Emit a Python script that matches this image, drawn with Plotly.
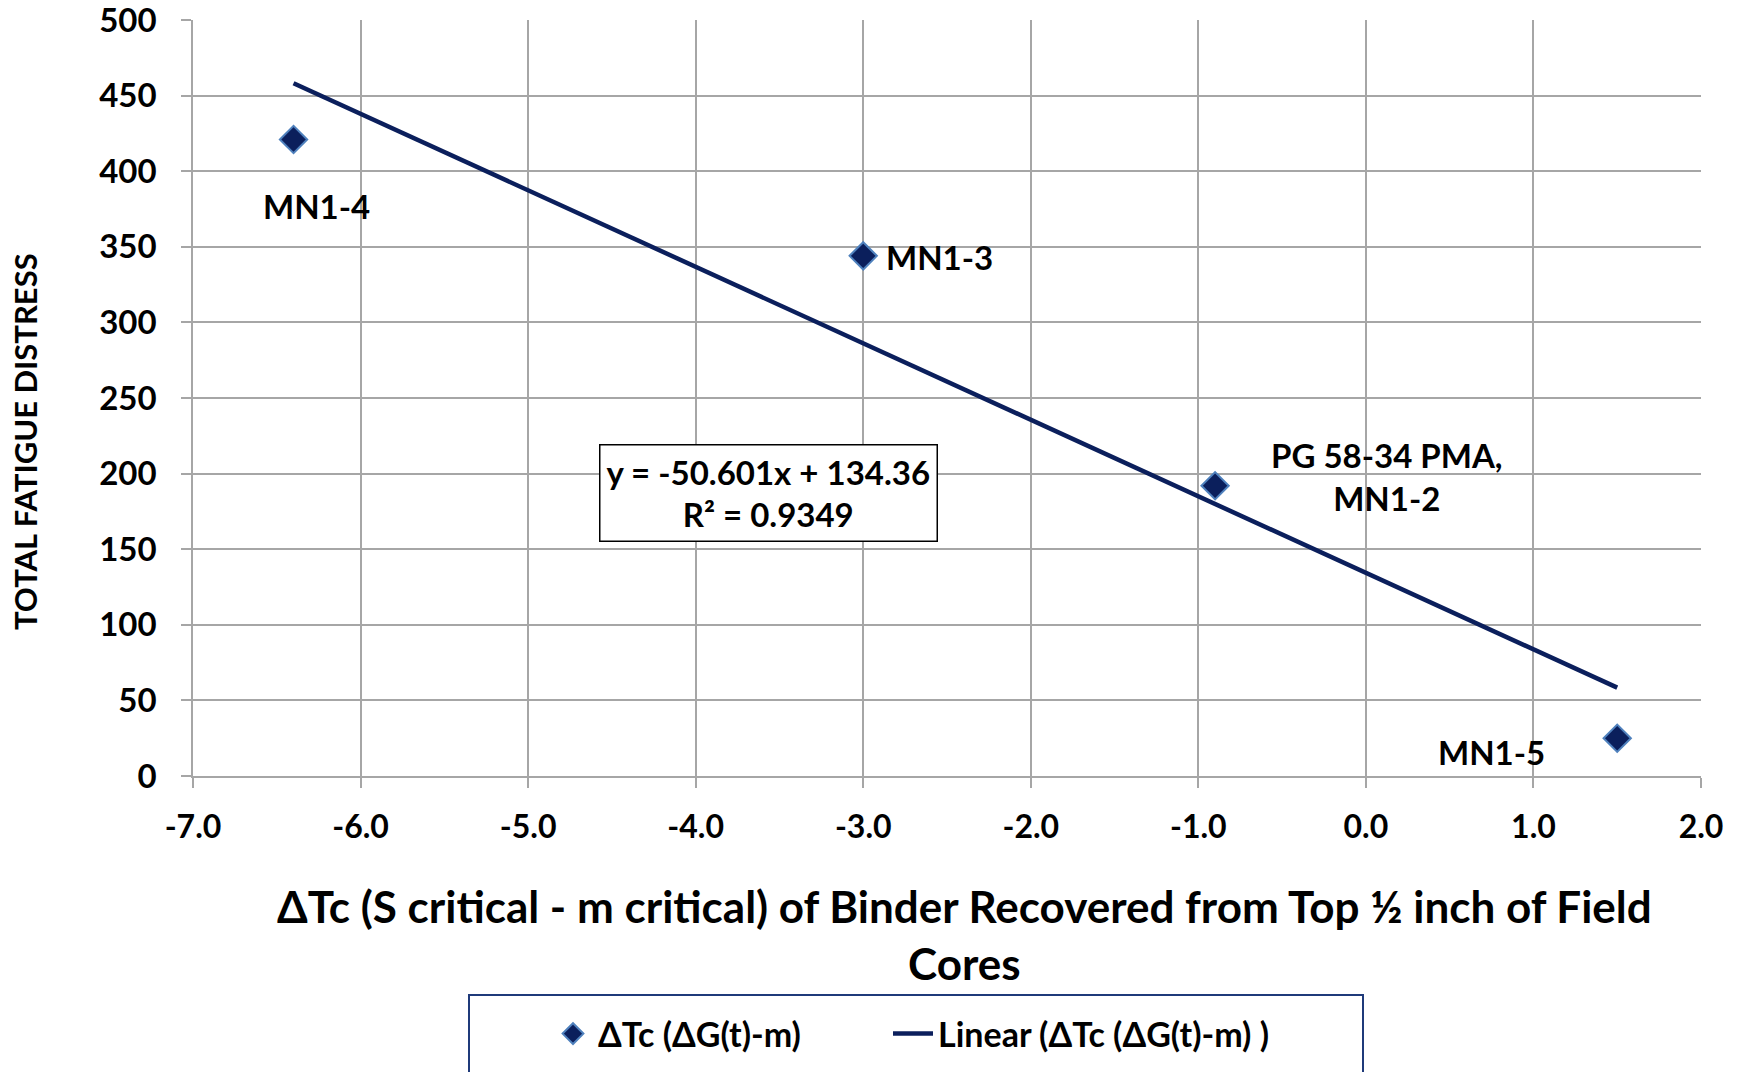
import plotly.graph_objects as go

# ---- data ----
delta_tc = [-6.4, -3.0, -0.9, 1.5]
fatigue = [421, 344, 192, 25]
point_labels = ["MN1-4", "MN1-3", "PG 58-34 PMA,<br>MN1-2", "MN1-5"]
slope = -50.601
intercept = 134.36
r_squared = 0.9349
x_ticks = [-7.0, -6.0, -5.0, -4.0, -3.0, -2.0, -1.0, 0.0, 1.0, 2.0]
y_ticks = [0, 50, 100, 150, 200, 250, 300, 350, 400, 450, 500]

FONT = "Lato, 'Open Sans', sans-serif"
NAVY = "#0b1f5c"
GRID = "#a6a6a6"

W, H = 1743, 1072
L, R, T, B = 193, 42, 20, 296
PW, PH = W - L - R, H - T - B


def px_x(px):
    return (px - L) / PW


def px_y(py):
    return (H - B - py) / PH


trend_x = [min(delta_tc), max(delta_tc)]
trend_y = [slope * v + intercept for v in trend_x]

fig = go.Figure()
fig.add_trace(go.Scatter(
    x=delta_tc, y=fatigue, mode="markers", name="ΔTc (ΔG(t)-m)",
    marker=dict(symbol="diamond", size=21, color=NAVY,
                line=dict(color="#4f81bd", width=2)),
))
fig.add_trace(go.Scatter(
    x=trend_x, y=trend_y, mode="lines", name="Linear (ΔTc (ΔG(t)-m) )",
    line=dict(color=NAVY, width=4.5),
))
# empty spacer entry so the horizontal legend is wide enough for the last label
fig.add_trace(go.Scatter(
    x=[None], y=[None], mode="lines", name=" ",
    line=dict(color="rgba(0,0,0,0)", width=0), hoverinfo="skip",
))

# point labels
label_pos = [
    dict(x=-6.26, y=377, xanchor="center"),
    dict(x=-2.875, y=343, xanchor="left"),
    dict(x=0.128, y=198, xanchor="center"),
    dict(x=0.75, y=16, xanchor="center"),
]
for txt, p in zip(point_labels, label_pos):
    fig.add_annotation(x=p["x"], y=p["y"], xref="x", yref="y", text=txt,
                       showarrow=False, xanchor=p["xanchor"], yanchor="middle",
                       font=dict(family=FONT, size=33, color="black", weight="bold"))

# equation box
fig.add_annotation(
    x=-3.567, y=187, xref="x", yref="y",
    text=f"y = {slope}x + {intercept}<br>R² = {r_squared}",
    showarrow=False, align="center",
    font=dict(family=FONT, size=33, color="black", weight="bold"),
    bordercolor="black", borderwidth=1.5, bgcolor="white", borderpad=6,
)

# y-axis title
fig.add_annotation(
    x=px_x(25), y=px_y(442), xref="paper", yref="paper", text="TOTAL FATIGUE DISTRESS",
    showarrow=False, textangle=-90, xanchor="center", yanchor="middle",
    font=dict(family=FONT, size=31, color="black", weight="bold"),
)

# x-axis title
fig.add_annotation(
    x=px_x(964), y=px_y(934), xref="paper", yref="paper",
    text="ΔTc (S critical - m critical) of Binder Recovered from Top ½ inch of Field<br>Cores",
    showarrow=False, xanchor="center", yanchor="middle", align="center",
    font=dict(family=FONT, size=44, color="black", weight="bold"),
)

# legend frame
fig.add_shape(type="rect", xref="paper", yref="paper",
              x0=px_x(469), x1=px_x(1363), y0=px_y(995), y1=px_y(1090),
              line=dict(color="#1f3a7a", width=2), fillcolor="rgba(0,0,0,0)")

fig.update_layout(
    width=W, height=H,
    margin=dict(l=L, r=R, t=T, b=B, autoexpand=False),
    paper_bgcolor="white", plot_bgcolor="white",
    font=dict(family=FONT, color="black"),
    showlegend=True,
    legend=dict(orientation="h", x=px_x(548), xanchor="left",
                y=px_y(1034), yanchor="middle",
                font=dict(family=FONT, size=34, color="black", weight="bold"),
                bgcolor="rgba(0,0,0,0)", itemwidth=40, entrywidth=285,
                entrywidthmode="pixels"),
    xaxis=dict(range=[-7, 2], tickvals=x_ticks, ticktext=[f"{v:.1f}" for v in x_ticks],
               showgrid=True, gridcolor=GRID, gridwidth=1.5, zeroline=False,
               showline=True, linecolor=GRID, linewidth=1.5, automargin=False,
               ticks="outside", ticklen=10, tickcolor=GRID, tickwidth=1.5,
               ticklabelstandoff=12, ticklabeloverflow="allow",
               tickfont=dict(family=FONT, size=32, color="black", weight="bold")),
    yaxis=dict(range=[0, 500], tickvals=y_ticks,
               showgrid=True, gridcolor=GRID, gridwidth=1.5, zeroline=False,
               showline=True, linecolor=GRID, linewidth=1.5, automargin=False,
               ticks="outside", ticklen=10, tickcolor=GRID, tickwidth=1.5,
               ticklabelstandoff=18, ticklabeloverflow="allow",
               tickfont=dict(family=FONT, size=33, color="black", weight="bold")),
)

fig.write_html("out.html")
